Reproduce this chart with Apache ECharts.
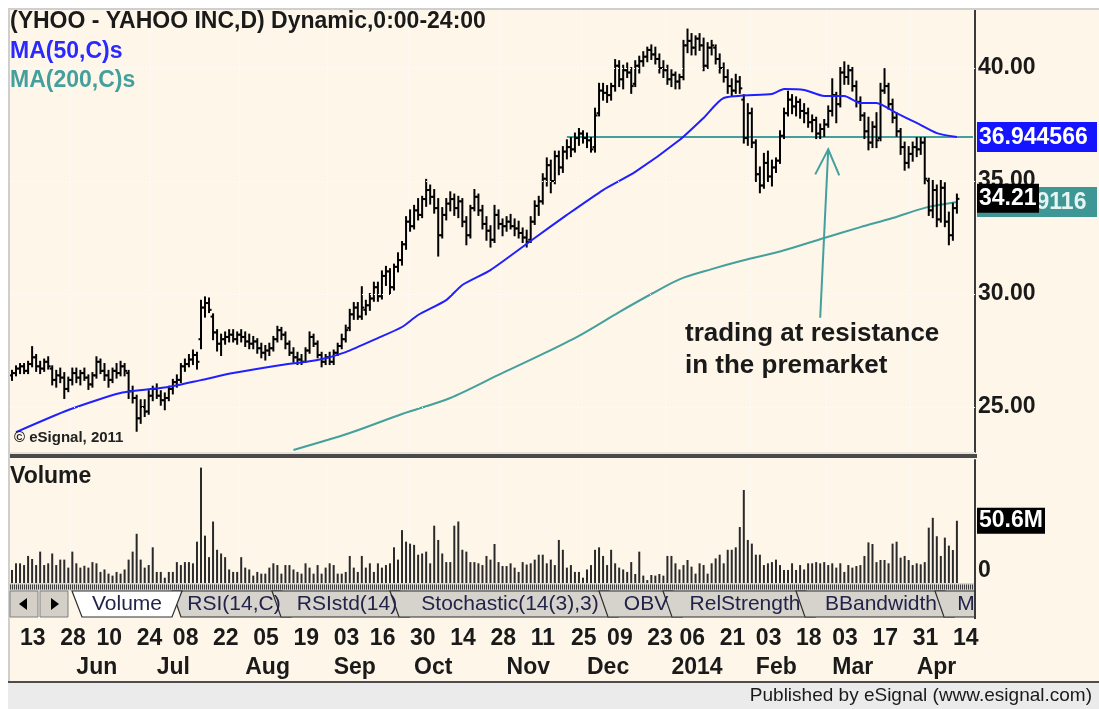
<!DOCTYPE html>
<html>
<head>
<meta charset="utf-8">
<title>YHOO - YAHOO INC, daily</title>
<script src="https://cdn.jsdelivr.net/npm/echarts@6/dist/echarts.min.js"></script>
<style>
  html, body { margin: 0; padding: 0; background: #fff; }
  #chart { width: 1099px; height: 709px; }
</style>
</head>
<body>
<div id="chart"></div>
<script>
// trading days shown on the chart, per month
const daysMay13 = [9,10,13,14,15,16,17,20,21,22,23,24,28,29,30,31];
const daysJun13 = [3,4,5,6,7,10,11,12,13,14,17,18,19,20,21,24,25,26,27,28];
const daysJul13 = [1,2,3,5,8,9,10,11,12,15,16,17,18,19,22,23,24,25,26,29,30,31];
const daysAug13 = [1,2,5,6,7,8,9,12,13,14,15,16,19,20,21,22,23,26,27,28,29,30];
const daysSep13 = [3,4,5,6,9,10,11,12,13,16,17,18,19,20,23,24,25,26,27,30];
const daysOct13 = [1,2,3,4,7,8,9,10,11,14,15,16,17,18,21,22,23,24,25,28,29,30,31];
const daysNov13 = [1,4,5,6,7,8,11,12,13,14,15,18,19,20,21,22,25,26,27,29];
const daysDec13 = [2,3,4,5,6,9,10,11,12,13,16,17,18,19,20,23,24,26,27,30,31];
const daysJan14 = [2,3,6,7,8,9,10,13,14,15,16,17,21,22,23,24,27,28,29,30,31];
const daysFeb14 = [3,4,5,6,7,10,11,12,13,14,18,19,20,21,24,25,26,27,28];
const daysMar14 = [3,4,5,6,7,10,11,12,13,14,17,18,19,20,21,24,25,26,27,28,31];
const daysApr14 = [1,2,3,4,7,8,9,10,11,14,15];
const daysAhead = [16,17,21,22]; // empty space right of the last bar

// [open, high, low, close]
const ohlcMay13 = [
  [26.4,26.6,26.2,26.5],[26.5,26.8,26.4,26.7],[26.7,26.9,26.5,26.8],[26.8,26.9,26.5,26.6],
  [26.6,27.0,26.5,26.9],[26.9,27.65,26.8,27.2],[27.2,27.3,26.6,26.8],[26.8,27.0,26.5,26.7],
  [26.7,27.1,26.6,27.0],[27.0,27.2,26.7,26.8],[26.7,26.8,26.0,26.2],[26.2,26.6,25.9,26.4],
  [26.4,26.7,26.1,26.3],[26.3,26.5,25.4,25.8],[25.8,26.3,25.7,26.2],[26.2,26.7,26.0,26.5]
];
const ohlcJun13 = [
  [26.5,26.7,26.1,26.3],[26.3,26.6,26.0,26.5],[26.5,26.7,26.2,26.3],[26.3,26.4,25.8,26.0],
  [26.0,26.5,25.9,26.4],[26.4,27.2,26.3,27.0],[27.0,27.1,26.5,26.6],[26.6,26.9,26.2,26.4],
  [26.4,26.6,25.9,26.2],[26.2,26.7,26.1,26.6],[26.6,26.9,26.3,26.5],[26.5,27.0,26.4,26.8],
  [26.8,26.9,26.4,26.6],[26.5,26.6,25.4,25.7],[25.7,25.9,25.2,25.4],[25.4,25.5,23.95,24.5],
  [24.5,25.3,24.3,25.0],[25.0,25.3,24.6,24.8],[24.8,25.7,24.7,25.5],[25.5,25.9,25.3,25.8]
];
const ohlcJul13 = [
  [25.8,26.0,25.4,25.5],[25.5,25.7,25.1,25.3],[25.3,25.6,24.9,25.4],[25.4,25.9,25.3,25.8],
  [25.8,26.2,25.6,26.1],[26.1,26.4,25.9,26.2],[26.2,26.9,26.1,26.8],[26.8,27.1,26.6,26.9],
  [26.9,27.3,26.8,27.1],[27.1,27.5,26.9,27.3],[27.3,27.4,26.7,27.0],[28.0,29.7,27.6,29.4],
  [29.4,29.85,29.0,29.6],[29.6,29.8,29.2,29.3],[29.0,29.1,28.0,28.3],[28.3,28.4,27.5,27.8],
  [27.8,28.2,27.3,28.0],[28.0,28.3,27.8,28.1],[28.1,28.4,27.9,28.2],[28.2,28.4,27.9,28.0],
  [28.0,28.3,27.8,28.2],[28.2,28.4,27.9,28.1]
];
const ohlcAug13 = [
  [28.1,28.3,27.7,27.9],[27.9,28.2,27.6,27.8],[27.8,28.1,27.6,27.9],[27.9,28.0,27.4,27.6],
  [27.6,27.8,27.2,27.4],[27.4,27.7,27.1,27.5],[27.5,27.8,27.3,27.6],[27.6,28.1,27.5,28.0],
  [28.0,28.55,27.9,28.4],[28.4,28.5,28.0,28.2],[28.2,28.3,27.6,27.8],[27.8,27.9,27.3,27.4],
  [27.4,27.6,27.0,27.2],[27.2,27.4,26.9,27.1],[27.1,27.3,26.9,27.0],[27.0,27.6,27.0,27.5],
  [27.5,28.3,27.4,28.1],[28.1,28.2,27.7,27.8],[27.8,27.9,27.2,27.3],[27.3,27.4,26.8,27.0],
  [27.0,27.3,26.9,27.2],[27.2,27.4,26.9,27.0]
];
const ohlcSep13 = [
  [27.0,27.5,26.9,27.4],[27.4,27.8,27.3,27.7],[27.7,28.2,27.6,28.0],[28.0,28.6,27.9,28.4],
  [28.5,29.3,28.4,29.1],[29.1,29.6,28.9,29.4],[29.4,29.6,28.9,29.0],[29.0,30.3,28.9,29.4],
  [29.3,29.7,29.1,29.5],[29.5,30.0,29.3,29.8],[29.8,30.5,29.7,30.3],[30.3,30.5,29.7,29.9],
  [29.9,31.0,29.8,30.8],[30.8,31.2,30.4,31.0],[31.0,31.1,30.0,30.3],[30.3,31.3,30.2,31.2],
  [31.2,31.8,31.0,31.5],[31.5,32.3,31.3,32.2],[32.2,33.4,32.0,33.2],[33.2,33.7,32.8,33.0]
];
const ohlcOct13 = [
  [33.0,33.9,32.9,33.7],[33.7,34.2,33.3,33.5],[33.5,34.3,33.4,34.2],[34.2,35.05,33.9,34.6],
  [34.6,34.8,34.0,34.3],[34.3,34.6,33.6,33.8],[33.8,34.2,31.7,32.6],[32.6,33.8,32.5,33.5],
  [33.5,34.2,33.3,34.0],[34.0,34.5,33.7,34.2],[34.2,34.4,33.5,33.8],[33.8,34.3,33.4,34.1],
  [34.1,34.2,33.0,33.2],[33.2,33.4,32.2,32.6],[32.6,33.9,32.5,33.8],[33.8,34.6,33.7,34.3],
  [34.3,34.4,33.5,33.7],[33.7,33.9,32.9,33.1],[33.1,33.4,32.4,32.8],[32.8,33.0,32.1,32.4],
  [32.4,33.9,32.3,33.5],[33.5,33.7,32.9,33.1],[33.1,33.3,32.6,33.0]
];
const ohlcNov13 = [
  [33.0,33.4,32.8,33.2],[33.2,33.5,32.9,33.0],[33.0,33.3,32.6,32.9],[32.9,33.2,32.5,32.7],
  [32.7,32.9,32.3,32.5],[32.5,32.8,32.1,32.3],[32.4,33.4,32.3,33.2],[33.2,34.1,33.1,33.9],
  [33.9,34.3,33.5,34.1],[34.1,35.3,34.0,35.1],[35.1,36.0,34.8,35.7],[35.7,35.9,34.5,35.0],
  [35.0,36.3,34.9,36.1],[36.1,36.3,35.3,35.6],[35.6,36.5,35.4,36.3],[36.3,36.8,36.0,36.5],
  [36.5,36.9,36.1,36.4],[36.4,37.1,36.3,36.9],[36.9,37.3,36.6,37.1],[37.1,37.2,36.7,36.9]
];
const ohlcDec13 = [
  [36.9,37.1,36.5,36.8],[36.8,36.9,36.3,36.4],[36.5,38.2,36.3,37.9],[38.0,39.3,37.9,39.0],
  [39.0,39.3,38.6,38.9],[38.9,39.2,38.5,38.8],[38.8,39.3,38.6,39.2],[39.2,40.35,39.0,40.1],
  [40.1,40.3,39.2,39.5],[39.5,40.1,39.1,39.9],[39.9,40.2,39.6,39.8],[39.8,40.0,38.9,39.2],
  [39.3,40.3,39.2,40.1],[40.1,40.5,39.8,40.3],[40.3,40.7,40.1,40.5],[40.5,40.9,40.3,40.8],
  [40.8,41.0,40.4,40.6],[40.6,40.9,40.2,40.4],[40.4,40.6,39.8,40.0],[40.0,40.3,39.6,39.9],
  [39.9,40.1,39.3,39.5]
];
const ohlcJan14 = [
  [39.5,39.9,39.2,39.7],[39.7,39.8,39.1,39.4],[39.4,39.7,39.1,39.6],[39.6,41.2,39.5,41.0],
  [41.0,41.7,40.7,41.2],[41.2,41.5,40.6,40.9],[40.9,41.4,40.6,41.3],[41.3,41.5,40.8,41.0],
  [41.0,41.3,39.9,40.1],[40.1,41.1,40.0,40.9],[40.9,41.2,40.6,41.0],[40.9,41.0,40.2,40.4],
  [40.4,40.6,39.8,40.0],[40.0,40.2,39.4,39.6],[39.6,39.9,38.9,39.2],[39.2,39.5,38.8,39.0],
  [39.0,39.7,38.9,39.4],[39.4,39.6,38.9,39.1],[38.6,38.8,36.7,36.9],[36.9,38.4,36.6,38.0],
  [38.0,38.2,36.5,36.7]
];
const ohlcFeb14 = [
  [36.7,36.8,35.0,35.3],[35.3,35.6,34.5,34.8],[34.8,36.2,34.7,35.8],[35.8,36.3,35.0,35.2],
  [35.2,35.9,34.8,35.6],[35.6,36.0,35.4,35.9],[35.9,37.2,35.8,37.0],[37.0,38.2,36.9,38.0],
  [38.0,38.95,37.9,38.6],[38.6,38.8,38.0,38.3],[38.3,38.7,37.9,38.5],[38.5,38.6,37.8,38.1],
  [38.1,38.4,37.6,38.0],[38.0,38.2,37.4,37.6],[37.6,37.9,37.2,37.7],[37.7,37.8,36.9,37.1],
  [37.1,37.5,36.9,37.3],[37.3,37.7,37.0,37.5],[37.5,38.3,37.4,38.1]
];
const ohlcMar14 = [
  [38.1,39.5,37.9,38.8],[38.8,38.9,37.6,38.4],[38.4,40.0,38.3,39.8],[39.8,40.25,39.3,39.6],
  [39.6,40.1,39.3,39.9],[39.9,40.0,39.0,39.2],[39.2,39.4,38.3,38.5],[38.5,38.7,37.7,37.9],
  [37.9,38.0,36.9,37.2],[37.2,37.8,36.4,36.7],[36.7,37.6,36.5,37.4],[37.4,38.0,36.5,36.8],
  [36.9,39.3,36.8,39.0],[39.0,39.95,38.9,39.2],[39.2,39.3,38.2,38.4],[38.4,38.6,37.6,37.8],
  [37.8,38.0,37.0,37.2],[37.2,37.3,36.2,36.5],[36.5,36.7,35.5,35.8],[35.8,36.5,35.6,36.2],
  [36.2,36.7,35.9,36.5]
];
const ohlcApr14 = [
  [36.5,36.9,36.1,36.4],[36.4,36.9,36.2,36.7],[36.7,36.9,34.9,35.1],[35.0,35.1,33.5,33.7],
  [33.7,35.0,33.4,34.6],[34.6,34.8,33.0,33.3],[33.3,35.0,33.2,34.7],[34.7,34.9,33.0,33.2],
  [33.2,33.6,32.2,32.6],[32.6,34.0,32.4,33.8],[33.8,34.4,33.6,34.21]
];

// daily volume, millions of shares
const volMay13 = [10.6,16,16,14.6,22,19.5,14.6,25.5,14.6,16,24,14.6,19,19,12.5,25.5];
const volJun13 = [16,12.5,14,12.5,17,16,9,11,7.6,6,9,7.6,11,19,25.5,40,19,12.5,14.6,29];
const volJul13 = [9,9,4.3,9,9,17,14.6,17,17,16,33.6,93.8,38.5,21,50,27,24,21,11,9,9,21];
const volAug13 = [12.5,11,6,9,7.6,7.6,12.5,16,14.6,7.6,14.6,14.6,11,9,7.6,16,12.5,7.6,14.6,7.6,12.5,16];
const volSep13 = [14.6,7.6,7.6,9,22,12.5,9,22,12.5,16,9,16,12.5,14.6,16,29,19,43,33.6,32];
const volOct13 = [31,23,24,25.5,16,46.6,35,24,17,17,46.6,50,27,25.5,17,17,16,14.6,22,19,31.7,17,13.8];
const volNov13 = [13.8,16,12.5,9,17,15,16,19,23,23,16,19,14.6,35,27,12.5,14.6,9,9,4.3];
const volDec13 = [11,14.6,27,29,22,14.6,27,16,12.5,11,9,17,7.3,25.5,6,2.4,6.5,6,7.3,6,22];
const volJan14 = [22,16,11,14.6,18.7,13.3,7.6,16,14.6,7.6,16,20,23,16,27,27,29,45.5,75.6,35,32];
const volFeb14 = [23,23,14.6,16,17,19,14.6,10.6,10.6,16,10.6,14.6,11,16,16,17,16,17,14.6];
const volMar14 = [16,12.5,16,9,14.6,12.5,13.8,14.6,22,33,31.7,17,18.7,18.7,16,32,33.6,20.6,22,18.7,14.6];
const volApr14 = [16,15.2,17,45,53,38,22,36.9,30.4,26.8,50.6];

// moving averages
const ma50Points = [
  ['2013-05-10',23.89],['2013-05-30',24.87],['2013-06-18',25.62],['2013-07-05',25.89],
  ['2013-07-17',26.19],['2013-07-29',26.50],['2013-08-14',26.86],['2013-08-27',27.08],
  ['2013-09-06',27.43],['2013-09-18',28.05],['2013-09-26',28.54],['2013-10-02',29.07],
  ['2013-10-11',29.73],['2013-10-17',30.40],['2013-10-28',31.06],['2013-11-12',32.48],
  ['2013-11-22',33.50],['2013-12-06',34.60],['2013-12-18',35.40],['2014-01-06',36.81],
  ['2014-01-14',37.79],['2014-01-22',38.67],['2014-02-07',38.85],['2014-02-12',39.07],
  ['2014-02-20',39.03],['2014-02-27',38.76],['2014-03-06',38.76],['2014-03-12',38.45],
  ['2014-03-18',38.45],['2014-03-25',38.00],['2014-04-01',37.57],['2014-04-08',37.12],
  ['2014-04-15',36.944566]
];
const ma200Points = [
  ['2013-08-19',23.10],['2013-09-09',23.85],['2013-09-26',24.69],['2013-10-14',25.40],
  ['2013-10-30',26.42],['2013-11-13',27.26],['2013-11-27',28.15],['2013-12-12',29.20],
  ['2013-12-24',30.00],['2014-01-06',30.65],['2014-01-16',31.10],['2014-01-28',31.45],
  ['2014-02-11',31.88],['2014-02-27',32.48],['2014-03-12',32.96],['2014-03-24',33.36],
  ['2014-04-03',33.81],['2014-04-15',34.069116]
];
const resistance = 36.944566;
const resistanceFrom = '2013-11-22';

// axis labels
const priceTicks = [25, 30, 35, 40];
const dayTicks = ['2013-05-13','2013-05-28','2013-06-10','2013-06-24','2013-07-08','2013-07-22',
  '2013-08-05','2013-08-19','2013-09-03','2013-09-16','2013-09-30','2013-10-14','2013-10-28',
  '2013-11-11','2013-11-25','2013-12-09','2013-12-23','2014-01-06','2014-01-21','2014-02-03',
  '2014-02-18','2014-03-03','2014-03-17','2014-03-31','2014-04-14'];
const monthStarts = ['2013-06-03','2013-07-01','2013-08-01','2013-09-03','2013-10-01','2013-11-01',
  '2013-12-02','2014-01-02','2014-02-03','2014-03-03','2014-04-01'];
const monthNames = ['Jun','Jul','Aug','Sep','Oct','Nov','Dec','2014','Feb','Mar','Apr'];
const tabNames = ['Volume','RSI(14,C)','RSIstd(14)','Stochastic(14(3),3)','OBV','RelStrength','BBandwidth','M'];

// ---- build the series ----
function pad (n) { return n < 10 ? '0' + n : '' + n }
const months = [
  ['2013-05', daysMay13, ohlcMay13, volMay13], ['2013-06', daysJun13, ohlcJun13, volJun13],
  ['2013-07', daysJul13, ohlcJul13, volJul13], ['2013-08', daysAug13, ohlcAug13, volAug13],
  ['2013-09', daysSep13, ohlcSep13, volSep13], ['2013-10', daysOct13, ohlcOct13, volOct13],
  ['2013-11', daysNov13, ohlcNov13, volNov13], ['2013-12', daysDec13, ohlcDec13, volDec13],
  ['2014-01', daysJan14, ohlcJan14, volJan14], ['2014-02', daysFeb14, ohlcFeb14, volFeb14],
  ['2014-03', daysMar14, ohlcMar14, volMar14], ['2014-04', daysApr14, ohlcApr14, volApr14]
];
let dates = [], ohlc = [], volumes = [];
months.forEach(function (m) {
  m[1].forEach(function (d) { dates.push(m[0] + '-' + pad(d)) });
  ohlc = ohlc.concat(m[2]);
  volumes = volumes.concat(m[3]);
});
daysAhead.forEach(function (d) { dates.push('2014-04-' + pad(d)) });
const ohlcData = ohlc.map(function (r, i) { return [i, r[0], r[1], r[2], r[3]] });
const lastDate = dates[dates.length - 1];

const FONT = '"Liberation Sans", Arial, sans-serif';
const CREAM = '#fdf6e9';
const TEAL = '#44a09d';
const BLUE = '#2020ff';

function renderBar (params, api) {
  const x = api.coord([api.value(0), 0])[0];
  const yo = api.coord([api.value(0), api.value(1)])[1];
  const yh = api.coord([api.value(0), api.value(2)])[1];
  const yl = api.coord([api.value(0), api.value(3)])[1];
  const yc = api.coord([api.value(0), api.value(4)])[1];
  const st = { stroke: '#000', lineWidth: 2 };
  return {
    type: 'group',
    children: [
      { type: 'line', shape: { x1: x, y1: yh - 1, x2: x, y2: yl + 1 }, style: st },
      { type: 'line', shape: { x1: x - 2.5, y1: yo, x2: x, y2: yo }, style: st },
      { type: 'line', shape: { x1: x, y1: yc, x2: x + 2.5, y2: yc }, style: st }
    ]
  };
}

function catAxis (grid) {
  return {
    type: 'category', gridIndex: grid, data: dates, boundaryGap: true,
    axisLine: { show: false }, axisTick: { show: false }, axisLabel: { show: false },
    splitLine: {
      show: true,
      interval: function (i, v) { return monthStarts.indexOf(dates[i + 1]) >= 0 },
      lineStyle: { color: '#ffffff', type: [1, 3], width: 1 }
    }
  };
}

function labelAxis (margin, shown, fmt) {
  return {
    type: 'category', gridIndex: 1, data: dates, boundaryGap: true, position: 'bottom',
    axisLine: { show: false }, axisTick: { show: false }, splitLine: { show: false },
    axisLabel: {
      margin: margin, align: 'left', hideOverlap: false,
      interval: function (i, v) { return shown.indexOf(v) >= 0 },
      formatter: fmt,
      fontFamily: FONT, fontWeight: 'bold', fontSize: 23, color: '#1a1a1a'
    }
  };
}

const chart = echarts.init(document.getElementById('chart'), null, { renderer: 'canvas' });

chart.setOption({
  animation: false,
  backgroundColor: CREAM,
  grid: [
    { left: 10, top: 10, width: 965, height: 442, outerBoundsMode: 'none' },
    { left: 10, top: 460, width: 965, height: 123, outerBoundsMode: 'none' }
  ],
  xAxis: [
    catAxis(0),
    catAxis(1),
    labelAxis(44, dayTicks, function (v) { return v.slice(8) }),
    labelAxis(73, monthStarts, function (v) { return monthNames[monthStarts.indexOf(v)] })
  ],
  yAxis: [
    {
      type: 'value', gridIndex: 0, position: 'right', min: 23.009, max: 42.566, scale: true,
      axisLine: { show: true, lineStyle: { color: '#3a3a3a', width: 2 } },
      axisTick: { show: false }, splitLine: { show: false },
      axisLabel: {
        customValues: priceTicks, margin: 3, align: 'left',
        formatter: function (v) { return v.toFixed(2) },
        fontFamily: FONT, fontWeight: 'bold', fontSize: 23, color: '#1a1a1a'
      }
    },
    {
      type: 'value', gridIndex: 1, position: 'right', min: 0, max: 100,
      axisLine: { show: true, lineStyle: { color: '#3a3a3a', width: 2 } },
      axisTick: { show: false }, axisLabel: { show: false },
      splitLine: { show: false }
    }
  ],
  series: [
    {
      name: 'MA200', type: 'line', xAxisIndex: 0, yAxisIndex: 0, data: ma200Points,
      symbol: 'none', smooth: 0.3, lineStyle: { color: TEAL, width: 2 }, z: 2, silent: true,
      markLine: {
        silent: true, symbol: 'none', label: { show: false },
        lineStyle: { color: '#ffffff', type: [1, 3], width: 1 },
        data: priceTicks.map(function (p) { return { yAxis: p } })
      }
    },
    {
      name: 'Resistance', type: 'line', xAxisIndex: 0, yAxisIndex: 0,
      data: [[resistanceFrom, resistance], [lastDate, resistance]],
      symbol: 'none', lineStyle: { color: TEAL, width: 2 }, z: 2, silent: true
    },
    {
      name: 'YHOO', type: 'custom', xAxisIndex: 0, yAxisIndex: 0,
      renderItem: renderBar, data: ohlcData, encode: { x: 0, y: [1, 2, 3, 4] }, z: 3, clip: true
    },
    {
      name: 'MA50', type: 'line', xAxisIndex: 0, yAxisIndex: 0, data: ma50Points,
      symbol: 'none', smooth: 0.2, lineStyle: { color: BLUE, width: 2 }, z: 4, silent: true
    },
    {
      name: 'Volume', type: 'bar', xAxisIndex: 1, yAxisIndex: 1, data: volumes,
      barWidth: 2, itemStyle: { color: '#2a2a2a' }, silent: true
    }
  ]
});

// ---- decorations: frame, labels, tabs, annotation ----
function px (date, price) { return chart.convertToPixel({ xAxisIndex: 0, yAxisIndex: 0 }, [date, price]) }
const yMa50 = chart.convertToPixel({ yAxisIndex: 0 }, resistance);
const yClose = chart.convertToPixel({ yAxisIndex: 0 }, ohlc[ohlc.length - 1][3]);
const yMa200 = chart.convertToPixel({ yAxisIndex: 0 }, ma200Points[ma200Points.length - 1][1]);
const yVol = chart.convertToPixel({ yAxisIndex: 1 }, volumes[volumes.length - 1]);
const tip = px('2014-02-28', 36.4);
const tail = px('2014-02-26', 28.95);

function txt (text, x, y, size, color, weight, z, align) {
  return {
    type: 'text', z: z || 120, silent: true,
    style: { text: text, x: x, y: y, fill: color, font: (weight || 'bold') + ' ' + size + 'px ' + FONT, verticalAlign: 'middle', align: align || 'left' }
  };
}
function box (x, y, w, h, fill, z) {
  return { type: 'rect', z: z || 110, silent: true, shape: { x: x, y: y, width: w, height: h }, style: { fill: fill } };
}

const g = [];
// outer frame
g.push(box(0, 0, 1099, 8, '#ffffff'), box(0, 0, 8, 709, '#ffffff'));
g.push(box(8, 8, 1091, 2, '#cfcfcf'), box(8, 8, 2, 675, '#cfcfcf'));
// pane separator
g.push(box(10, 452, 965, 2, '#e6e2da'), box(10, 454, 967, 4, '#4a4a4a'));
// title block
g.push(txt('(YHOO - YAHOO INC,D) Dynamic,0:00-24:00', 10, 22, 23, '#1a1a1a'));
g.push(txt('MA(50,C)s', 10, 52, 23, '#2a2aff'));
g.push(txt('MA(200,C)s', 10, 81, 23, TEAL));
g.push(txt('\u00a9 eSignal, 2011', 14, 438, 15, '#222'));
g.push(txt('Volume', 10, 477, 23, '#1a1a1a'));
// annotation
g.push(txt('trading at resistance', 685, 334, 26, '#1a1a1a'));
g.push(txt('in the premarket', 685, 366, 26, '#1a1a1a'));
g.push({ type: 'polyline', z: 115, silent: true, shape: { points: [[tail[0], tail[1]], [tip[0], tip[1]]] }, style: { stroke: TEAL, lineWidth: 2, fill: null } });
g.push({ type: 'polyline', z: 115, silent: true, shape: { points: [[tip[0] - 13, tip[1] + 25], [tip[0], tip[1]], [tip[0] + 11, tip[1] + 26]] }, style: { stroke: TEAL, lineWidth: 2, fill: null } });
// last value boxes on the price scale (close box sits on top of the MA200 box)
g.push(box(977, yMa50 - 15, 120, 30, '#1414ff', 130), txt('36.944566', 979, yMa50 + 1, 23, '#ffffff', 'bold', 131));
g.push(box(977, yMa200 - 15, 120, 30, '#3e9794', 132), txt('34.069116', 979, yMa200 + 1, 23, '#e6f4f3', 'bold', 133));
g.push(box(977, yClose - 15, 62, 29, '#000000', 134), txt('34.21', 979, yClose, 23, '#ffffff', 'bold', 135));
// volume scale
g.push(box(977, yVol - 13, 68, 26, '#000000', 130), txt('50.6M', 979, yVol, 23, '#ffffff', 'bold', 131));
g.push(txt('0', 978, 571, 23, '#1a1a1a'));
// scroll strip under the panes
g.push(box(10, 583, 965, 8, '#d9d6cf'));
g.push({ type: 'line', z: 112, silent: true, shape: { x1: 10, y1: 587, x2: 975, y2: 587 }, style: { stroke: '#3c3c3c', lineWidth: 5, lineDash: [1, 1] } });
// tab bar
const tabEdges = [[182, 282], [282, 400], [400, 609], [609, 673], [673, 806], [806, 945], [945, 1010]];
const tabCenters = [234, 347, 510, 646, 745, 881, 966];
tabEdges.forEach(function (e, k) {
  g.push({ type: 'polygon', z: 111, silent: true,
    shape: { points: [[e[0] - 10, 591], [e[1], 591], [e[1] + 9, 617], [e[0] - 1, 617]] },
    style: { fill: '#d6d3cd', stroke: '#2e2e2e', lineWidth: 1.2 } });
  g.push(txt(tabNames[k + 1], tabCenters[k], 604, 21, '#23234a', 'normal', 120, 'center'));
});
g.push({ type: 'polygon', z: 113, silent: true,
  shape: { points: [[72, 591], [182, 591], [172, 617], [82, 617]] },
  style: { fill: '#ffffff', stroke: '#2e2e2e', lineWidth: 1.2 } });
g.push(txt(tabNames[0], 127, 604, 21, '#23234a', 'normal', 121, 'center'));
// tab scroll buttons
g.push({ type: 'rect', z: 114, silent: true, shape: { x: 10, y: 591, width: 28, height: 26 }, style: { fill: '#d4d0c8', stroke: '#808080', lineWidth: 1 } });
g.push({ type: 'rect', z: 114, silent: true, shape: { x: 40, y: 591, width: 28, height: 26 }, style: { fill: '#d4d0c8', stroke: '#808080', lineWidth: 1 } });
g.push({ type: 'polygon', z: 115, silent: true, shape: { points: [[19, 604], [27, 598], [27, 610]] }, style: { fill: '#000' } });
g.push({ type: 'polygon', z: 115, silent: true, shape: { points: [[51, 598], [59, 604], [51, 610]] }, style: { fill: '#000' } });
// right of the tab bar
g.push(box(976, 583, 123, 36, CREAM, 125));
g.push(box(974, 583, 2, 36, '#3a3a3a', 126));
// status bar
g.push(box(8, 681, 1091, 2, '#4d4d4d'), box(8, 683, 1091, 26, '#ebebeb'));
g.push(txt('Published by eSignal (www.esignal.com)', 1092, 696, 19, '#1a1a1a', 'normal', 120, 'right'));

chart.setOption({ graphic: g });
</script>
</body>
</html>
